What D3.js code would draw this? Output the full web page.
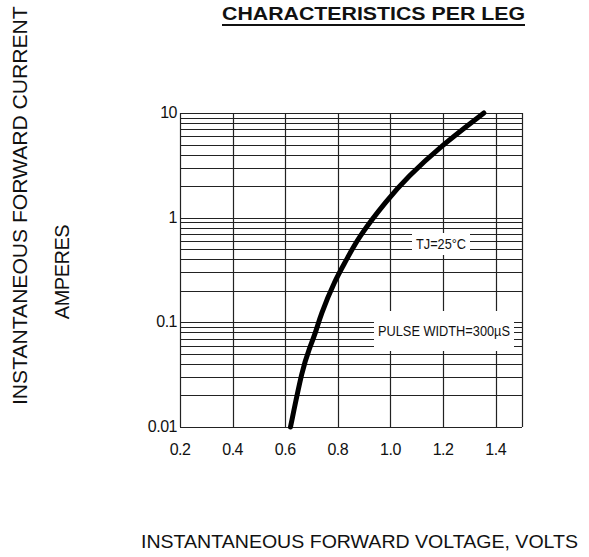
<!doctype html>
<head>
	<script src="https://d3js.org/d3.v7.min.js"></script>
	<style>
		body { margin: 0; background: #fff; }
		text { font-family: "Liberation Sans", Arial, sans-serif; fill: #111; }
	</style>
</head>
<body>
	<svg id="chart" width="589" height="557"></svg>
	<script>
		// forward voltage (V) vs instantaneous forward current (A)
		let voltage = [0.62, 0.666, 0.69, 0.719, 0.732, 0.789, 0.833, 0.876, 0.986, 1.066, 1.187, 1.355]
		let current = [0.01, 0.0367, 0.0545, 0.0845, 0.113, 0.254, 0.394, 0.64, 1.47, 2.45, 4.73, 10]

		let xTicks = [0.2, 0.4, 0.6, 0.8, 1.0, 1.2, 1.4]
		let xTickLabels = ["0.2", "0.4", "0.6", "0.8", "1.0", "1.2", "1.4"]
		let yTicks = [0.01, 0.1, 1, 10]
		let yTickLabels = ["0.01", "0.1", "1", "10"]

		const svg = d3.select("#chart")
		const x = d3.scaleLinear().domain([0.2, 1.5]).range([180, 522])
		const y = d3.scaleLog().domain([0.01, 10]).range([427, 113])

		// minor log grid
		let hlines = []
		for (let d = 0.01; d < 10; d *= 10)
			for (let k = 1; k < 10; k++) hlines.push(+(d * k).toPrecision(3))
		hlines.push(10)

		const grid = svg.append("g").attr("stroke", "#222").attr("stroke-width", 1.2)
		grid.selectAll("line.h").data(hlines).join("line")
			.attr("x1", x(0.2)).attr("x2", x(1.5))
			.attr("y1", d => Math.round(y(d)) + 0.5).attr("y2", d => Math.round(y(d)) + 0.5)
		grid.selectAll("line.v").data(xTicks.concat([1.5])).join("line")
			.attr("x1", d => Math.round(x(d)) + 0.5).attr("x2", d => Math.round(x(d)) + 0.5)
			.attr("y1", y(10)).attr("y2", y(0.01))

		// labels sitting on the grid with white boxes
		function boxLabel(txt, cx, cy, w, h, size, len) {
			svg.append("rect").attr("x", cx - w / 2).attr("y", cy - h / 2)
				.attr("width", w).attr("height", h).attr("fill", "#fff")
			svg.append("text").attr("x", cx - len / 2).attr("y", cy + size * 0.36)
				.attr("font-size", size).attr("textLength", len)
				.attr("lengthAdjust", "spacingAndGlyphs").text(txt)
		}
		boxLabel("TJ=25\u00B0C", 441, 244, 58, 22, 14, 50)
		boxLabel("PULSE WIDTH=300\u00B5S", 444, 331, 140, 40, 14, 132)

		// curve
		const line = d3.line().x(d => x(d[0])).y(d => y(d[1])).curve(d3.curveBasis)
		svg.append("path").datum(d3.zip(voltage, current))
			.attr("d", line).attr("fill", "none").attr("stroke", "#000")
			.attr("stroke-width", 5).attr("stroke-linecap", "round")

		// tick labels
		svg.selectAll("text.xt").data(xTicks).join("text")
			.attr("x", d => x(d)).attr("y", 455).attr("text-anchor", "middle")
			.attr("font-size", 16).attr("letter-spacing", -0.5)
			.text((d, i) => xTickLabels[i])
		svg.selectAll("text.yt").data(yTicks).join("text")
			.attr("x", 177).attr("y", d => y(d) + 5).attr("text-anchor", "end")
			.attr("font-size", 16).attr("letter-spacing", -0.5)
			.text((d, i) => yTickLabels[i])

		// title
		svg.append("text").attr("x", 222).attr("y", 20).attr("font-size", 18)
			.attr("font-weight", "bold").attr("textLength", 303)
			.attr("lengthAdjust", "spacingAndGlyphs").text("CHARACTERISTICS PER LEG")
		svg.append("line").attr("x1", 222).attr("x2", 525).attr("y1", 25).attr("y2", 25)
			.attr("stroke", "#111").attr("stroke-width", 2)

		// axis titles
		svg.append("text").attr("transform", "translate(27,405) rotate(-90)")
			.attr("font-size", 20).attr("textLength", 410).attr("lengthAdjust", "spacingAndGlyphs")
			.text("INSTANTANEOUS FORWARD CURRENT ,")
		svg.append("text").attr("transform", "translate(69,272) rotate(-90)")
			.attr("text-anchor", "middle").attr("font-size", 20).attr("letter-spacing", -0.5)
			.text("AMPERES")
		svg.append("text").attr("x", 141).attr("y", 548).attr("font-size", 19)
			.attr("textLength", 437).attr("lengthAdjust", "spacingAndGlyphs")
			.text("INSTANTANEOUS FORWARD VOLTAGE,  VOLTS")
	</script>
</body>
